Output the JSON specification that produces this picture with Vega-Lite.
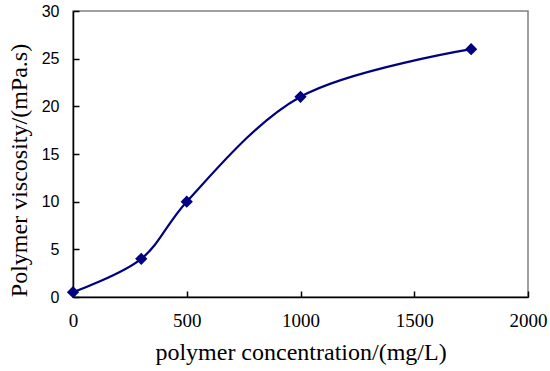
{
  "$schema": "https://vega.github.io/schema/vega-lite/v6.json",
  "width": 455,
  "height": 286,
  "autosize": "none",
  "padding": {"left": 73, "top": 11, "right": 22, "bottom": 74},
  "background": "white",
  "config": {
    "view": {"stroke": "#808080", "strokeWidth": 1.5},
    "axis": {"grid": false, "domainColor": "black", "domainWidth": 1.5, "tickColor": "black", "tickWidth": 1.5, "labelColor": "black", "titleColor": "black", "titleFontWeight": "normal"}
  },
  "data": {"values": [
    {"c": 0, "v": 0.5},
    {"c": 300, "v": 4},
    {"c": 500, "v": 10},
    {"c": 1000, "v": 21},
    {"c": 1750, "v": 26}
  ]},
  "encoding": {
    "x": {"field": "c", "type": "quantitative", "scale": {"domain": [0, 2000], "nice": false},
      "axis": {"values": [0, 500, 1000, 1500, 2000], "format": "d", "ticks": true, "tickSize": -6, "title": "polymer concentration/(mg/L)", "labelFont": "Liberation Serif", "labelFontSize": 19, "labelPadding": 20, "titleFont": "Liberation Serif", "titleFontSize": 24, "titleBaseline": "alphabetic", "titleY": 62, "labelFlush": false}},
    "y": {"field": "v", "type": "quantitative", "scale": {"domain": [0, 30], "nice": false},
      "axis": {"values": [0, 5, 10, 15, 20, 25, 30], "ticks": true, "tickSize": -6, "title": "Polymer viscosity/(mPa.s)", "labelFont": "Liberation Sans", "labelFontSize": 16, "labelPadding": 20, "titleFont": "Liberation Serif", "titleFontSize": 24, "titleBaseline": "alphabetic", "titleAlign": "center", "titleX": -47, "titleY": 159, "labelFlush": false}}
  },
  "layer": [
    {"mark": {"type": "line", "interpolate": "catmull-rom", "color": "#000080", "strokeWidth": 2.2}},
    {"mark": {"type": "point", "shape": "diamond", "filled": true, "color": "#000080", "size": 150, "opacity": 1}}
  ]
}
